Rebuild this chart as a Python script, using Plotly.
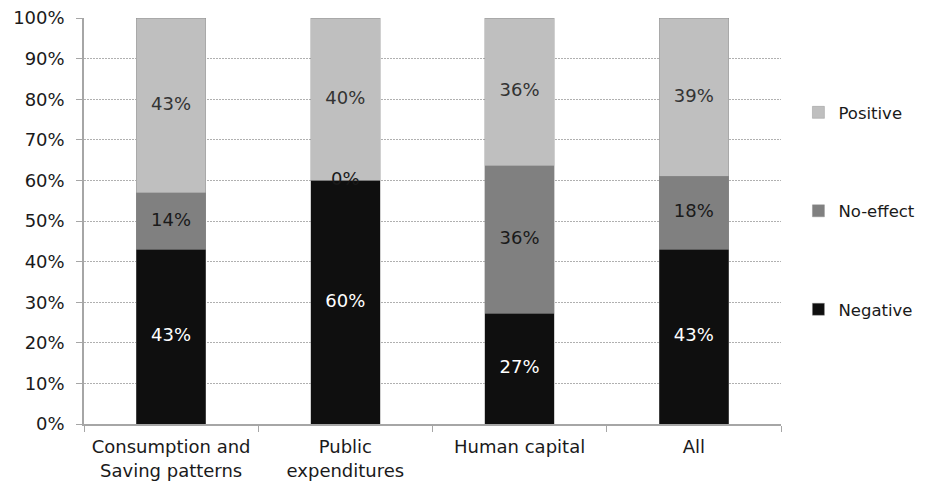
import plotly.graph_objects as go

categories = ["Consumption and<br>Saving patterns", "Public<br>expenditures", "Human capital", "All"]
negative = [43, 60, 27, 43]
no_effect = [14, 0, 36, 18]
positive = [43, 40, 36, 39]

series = [
    ("Negative", negative, "#0f0f0f", "white", 3),
    ("No-effect", no_effect, "#808080", "#1a1a1a", 2),
    ("Positive", positive, "#bfbfbf", "#333333", 1),
]

totals = [sum(v) for v in zip(negative, no_effect, positive)]
FONT = "DejaVu Sans, Verdana, sans-serif"
FS = 18

fig = go.Figure()
base = [0.0] * len(categories)
label_x, label_y, label_t, label_c = [], [], [], []
for name, vals, color, tcolor, rank in series:
    shares = [v / t * 100 for v, t in zip(vals, totals)]
    fig.add_trace(go.Bar(
        x=categories, y=shares, name=name,
        marker=dict(color=color, line=dict(color="#8a8a8a", width=0.4)),
        width=0.4, legendgroup=name, legendrank=rank, hoverinfo="skip",
    ))
    for j, (s, v) in enumerate(zip(shares, vals)):
        label_x.append(categories[j])
        label_y.append(base[j] + s / 2)
        label_t.append(f"{v}%")
        label_c.append(tcolor if s > 0 else "#1a1a1a")
        base[j] += s

fig.add_trace(go.Scatter(
    x=label_x, y=label_y, text=label_t, mode="text",
    textfont=dict(family=FONT, size=FS, color=label_c),
    showlegend=False, hoverinfo="skip",
))

fig.update_layout(
    barmode="stack",
    width=931, height=487,
    margin=dict(l=84, r=150, t=18, b=63, autoexpand=False),
    paper_bgcolor="white", plot_bgcolor="white",
    font=dict(family=FONT, size=FS, color="#1a1a1a"),
    legend=dict(
        x=1.025, y=0.81, xanchor="left", yanchor="top",
        traceorder="grouped", tracegroupgap=74,
        font=dict(family=FONT, size=16.5, color="#1a1a1a"),
        itemwidth=30,
    ),
    xaxis=dict(
        type="category", showline=True, linecolor="#a6a6a6", linewidth=1.5,
        ticks="outside", tickson="boundaries", ticklen=6, tickcolor="#a6a6a6",
        showgrid=False, tickfont=dict(size=FS), automargin=False,
        ticklabelstandoff=6,
    ),
    yaxis=dict(
        range=[0, 100], dtick=10, ticksuffix="%",
        showline=True, linecolor="#a6a6a6", linewidth=1.5,
        ticks="outside", ticklen=6, tickcolor="#a6a6a6",
        showgrid=True, gridcolor="#b0b0b0", griddash="2px,1px", gridwidth=1,
        zeroline=False, tickfont=dict(size=FS), automargin=False,
        ticklabelstandoff=8,
    ),
)

fig.write_html("out.html")
